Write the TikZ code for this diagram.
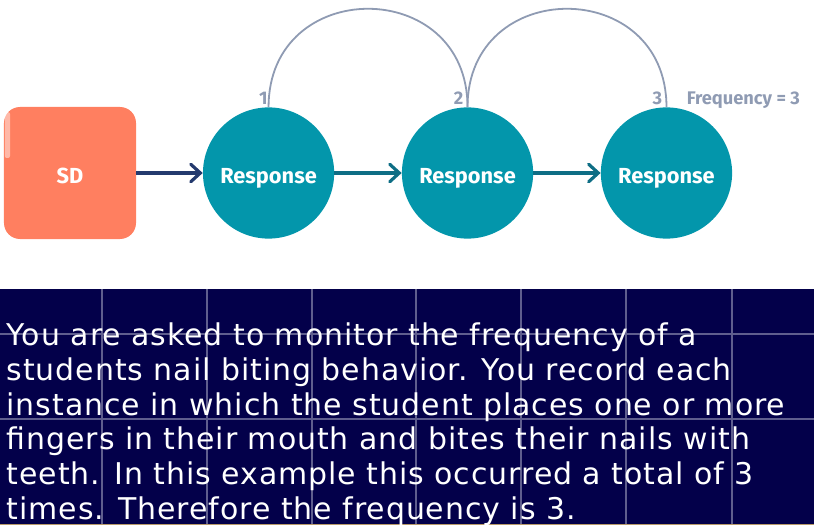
\documentclass[tikz,border=0pt]{standalone}
\usepackage{fontspec}
\setmainfont{Fira Sans}
\newfontfamily\panelfont[LetterSpace=3.2]{DejaVu Sans}
\usetikzlibrary{positioning,arrows.meta}
\usepackage{xcolor}
\definecolor{coral}{HTML}{FF7F60}
\definecolor{tealfill}{HTML}{0396AB}
\definecolor{tealline}{HTML}{0E6E85}
\definecolor{slate}{HTML}{8F9BB3}
\definecolor{navy}{HTML}{03004A}
\definecolor{navyline}{HTML}{243A6E}
\definecolor{gridline}{HTML}{5F5E8E}
\definecolor{edgetan}{HTML}{B89A6A}

\begin{document}
\begin{tikzpicture}[node distance=1.68cm]
    \tikzstyle{cue} = [rectangle, rounded corners=0.4cm, fill=coral, text=white,
               minimum size=3.3cm, inner sep=0pt, text height=0.5cm, text depth=0cm,
               font=\bfseries\fontsize{15.5}{18}\selectfont]
    \tikzstyle{response} = [circle, fill=tealfill, text=white, minimum size=3.28cm,
               inner sep=0pt, text height=0.5cm, text depth=0cm,
               font=\bfseries\fontsize{15.5}{18}\selectfont]
    \tikzstyle{tally} = [text=slate, inner sep=0pt, text depth=0cm,
               font=\bfseries\fontsize{13}{14}\selectfont]
    \tikzstyle{arrowline} = [line width=0.8mm, -{Straight Barb[length=2.4mm,width=4.4mm,line cap=round]}]
    \tikzstyle{loopline} = [draw=slate, line width=0.45mm]

    \useasboundingbox (0,0) rectangle (20.35,13.125);

    % Top half
    \node [cue] (sd) at (1.75,8.8) {SD};
    \fill [white, opacity=0.45, rounded corners=0.05cm] (0.12,9.175) rectangle (0.25,10.325);
    \node [response, right=1.66cm of sd] (first) {Response};
    \node [response, right=of first] (second) {Response};
    \node [response, right=of second] (third) {Response};

    \draw [arrowline, navyline] (sd) -- (first);
    \draw [arrowline, tealline] (first) -- (second);
    \draw [arrowline, tealline] (second) -- (third);

    \draw [loopline] (first.north) to[out=90, in=90, looseness=1.69] (second.north);
    \draw [loopline] (second.north) to[out=90, in=90, looseness=1.69] (third.north);

    \node [tally, above left=0.05cm and 0.02cm of first.north] (one) {1};
    \node [tally, above left=0.05cm and 0.1cm of second.north] (two) {2};
    \node [tally, above left=0.05cm and 0.1cm of third.north] (three) {3};
    \node [tally, above right=0.05cm and 0.5cm of third.north] (freq) {Frequency = 3};

    % Bottom panel
    \node [fill=navy, anchor=south west, inner sep=0pt, minimum width=20.35cm,
           minimum height=5.9cm] (panel) at (0,0) {};
    \foreach \x in {2.54,5.18,7.8,10.41,13.03,15.65,18.3}
      \draw [gridline, line width=0.5mm] (\x,0) -- (\x,5.9);
    \foreach \y in {2.65,4.78}
      \draw [gridline, line width=0.5mm] (0,\y) -- (20.35,\y);
    \draw [edgetan, line width=0.2mm] (0,0.01) -- (20.35,0.01);

    \node [anchor=north west, inner sep=0pt, text=white, align=left,
           font=\panelfont\fontsize{21.3}{24.7}\selectfont] (story) at (0.16,5.06) {%
      You are asked to monitor the frequency of a\\
      students nail biting behavior. You record each\\
      instance in which the student places one or more\\
      fingers in their mouth and bites their nails with\\
      teeth. In this example this occurred a total of 3\\
      times. Therefore the frequency is 3.};
\end{tikzpicture}
\end{document}
